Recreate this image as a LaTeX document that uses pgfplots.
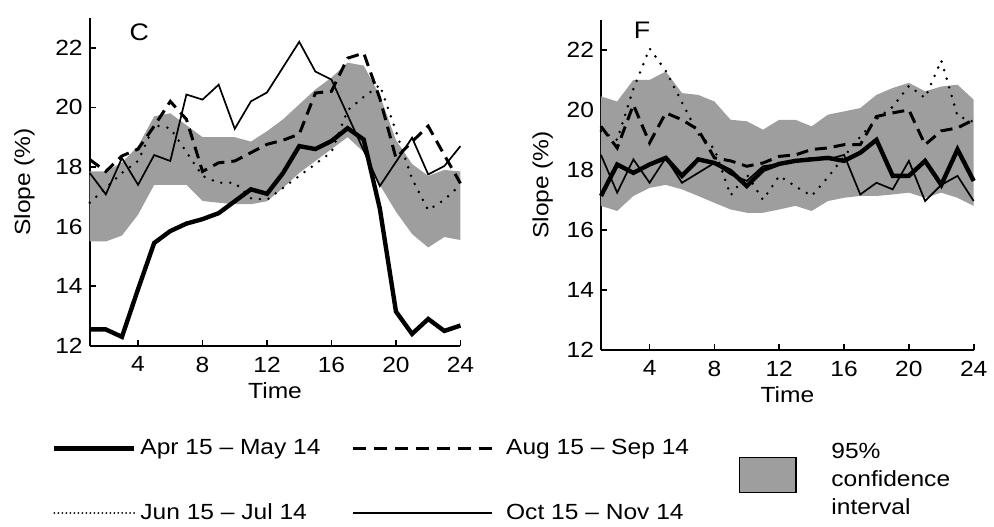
\documentclass[border=0pt]{standalone}
\usepackage{fontspec}
\setmainfont{Liberation Sans}[FakeStretch=1.12]
\usepackage{pgfplots}
\usepackage{pgfplotstable}
\pgfplotsset{compat=1.18}
\usepgfplotslibrary{fillbetween}

% panel C
\pgfplotstableread{
h  apr    jun    aug    oct    lo     up
1  12.55  16.8   18.25  17.8   15.5   17.85
2  12.55  17.3   17.85  17.08  15.5   17.85
3  12.3   17.8   18.37  18.3   15.7   18.15
4  13.9   18.2   18.6   17.4   16.4   18.7
5  15.45  19.4   19.37  18.4   17.4   19.7
6  15.85  19.3   20.2   18.2   17.4   19.8
7  16.1   18.5   19.6   20.43  17.4   19.4
8  16.25  17.7   17.85  20.26  16.86  19.0
9  16.45  17.47  18.14  20.76  16.8   19.0
10 16.85  17.47  18.2   19.28  16.75  19.0
11 17.25  16.95  18.48  20.2   16.75  18.85
12 17.1   16.9   18.76  20.5   16.85  19.2
13 17.8   17.3   18.9   21.35  17.3   19.6
14 18.7   17.7   19.1   22.2   17.8   20.1
15 18.6   18.1   20.48  21.2   18.2   20.6
16 18.87  18.5   20.54  20.93  18.6   21.0
17 19.3   19.9   21.65  19.74  19.0   21.5
18 18.92  20.35  21.82  18.55  18.5   21.4
19 16.6   20.75  20.3   17.36  17.4   20.4
20 13.15  19.2   18.3   18.17  16.5   18.9
21 12.4   17.6   18.85  18.98  15.75  18.1
22 12.9   16.55  19.37  17.75  15.3   17.7
23 12.5   16.9   18.4   18.03  15.65  17.9
24 12.68  17.4   17.45  18.7   15.55  17.85
}\dataC

% panel F
\pgfplotstableread{
h  apr    jun    aug    oct    lo     up
1  17.13  19.3   19.45  18.5   16.8   20.45
2  18.18  19.0   18.73  17.24  16.63  20.28
3  17.9   20.7   20.17  18.35  17.13  21.0
4  18.18  22.05  18.9   17.57  17.4   21.0
5  18.4   21.3   19.9   18.4   17.5   21.28
6  17.8   20.25  19.67  17.57  17.35  20.56
7  18.35  19.2   19.34  17.9   17.13  20.5
8  18.23  18.7   18.4   18.23  16.9   20.28
9  17.96  17.15  18.3   17.85  16.68  19.67
10 17.46  17.85  18.12  17.63  16.57  19.62
11 18.0   17.0   18.23  18.12  16.57  19.34
12 18.2   17.8   18.45  18.2   16.68  19.67
13 18.3   17.45  18.5   18.3   16.8   19.67
14 18.35  17.13  18.68  18.4   16.63  19.45
15 18.4   17.75  18.73  18.35  16.96  19.84
16 18.3   18.45  18.84  18.5   17.07  19.95
17 18.57  19.1   18.84  17.18  17.13  20.06
18 19.0   19.7   19.78  17.57  17.13  20.5
19 17.8   20.1   19.9   17.35  17.18  20.73
20 17.8   20.8   20.0   18.3   17.24  20.9
21 18.3   20.4   18.84  16.96  17.07  20.62
22 17.5   21.65  19.3   17.5   17.24  20.78
23 18.68  19.8   19.4   17.8   17.07  20.84
24 17.63  19.6   19.67  16.96  16.8   20.34
}\dataF

\pgfplotsset{
  slopeax/.style={
    scale only axis,
    xmin=1, xmax=24, ymin=12, ymax=23,
    axis lines*=left,
    axis line style={line width=1pt},
    xtick={4,8,...,24}, ytick={12,14,...,22},
    tick style={line width=0.8pt, black},
    major tick length=3pt,
    tick align=inside,
    xlabel={Time}, ylabel={Slope (\%)},
    ticklabel style={font=\fontsize{11}{13}\selectfont},
    label style={font=\fontsize{11}{13}\selectfont},
    xticklabel style={yshift=-2pt},
    xlabel style={yshift=1.5pt},
    /pgf/number format/assume math mode=true,
    clip=false,
  },
  ci/.style={fill=black!38, draw=none},
  s apr/.style={black, line width=2.2pt},
  s jun/.style={black, line width=1.4pt, dash pattern=on 0pt off 4.5pt, line cap=round},
  s aug/.style={black, line width=1.5pt, dash pattern=on 6pt off 3.5pt},
  s oct/.style={black, line width=0.85pt},
  leg short/.style={legend image code/.code={\draw[##1] (0pt,0pt) -- (40pt,0pt);}},
  leg long/.style={legend image code/.code={\draw[##1] (0pt,0pt) -- (69.5pt,0pt); \path (74pt,0pt);}},
  leg dots/.style={legend image code/.code={\draw[##1, line width=1pt, dash pattern=on 0pt off 2pt] (0pt,0pt) -- (40pt,0pt);}},
  leg dash/.style={legend image code/.code={\draw[##1, dash pattern=on 6.5pt off 4pt] (0pt,0pt) -- (69.5pt,0pt); \path (74pt,0pt);}},
  leg box/.style={legend image code/.code={\draw[fill=black!38, draw=black, line width=0.6pt] (0pt,-6pt) rectangle (28.5pt,11.5pt);}},
}

\begin{document}
\begin{tikzpicture}

% ---- panel C ----
\begin{axis}[slopeax,
  at={(45pt,87pt)}, anchor=south west,
  width=186pt, height=164.5pt,
  ylabel style={yshift=3.5pt},
  legend columns=2,
  legend cell align=left,
  legend style={draw=none, fill=none, inner sep=0pt,
    at={(-0.102,-0.412)}, anchor=west,
    font=\fontsize{11}{13}\selectfont,
    row sep=19pt,
    /tikz/every even column/.append style={column sep=8pt}},
]
\addplot[name path=upC, draw=none, forget plot] table[x=h,y=up]{\dataC};
\addplot[name path=loC, draw=none, forget plot] table[x=h,y=lo]{\dataC};
\addplot[ci, forget plot] fill between[of=upC and loC];

\addplot[s apr, leg short] table[x=h,y=apr]{\dataC};
\addlegendentry{\makebox[96pt][l]{Apr 15 -- May 14}}
\addplot[s aug, leg dash] table[x=h,y=aug]{\dataC};
\addlegendentry{Aug 15 -- Sep 14}
\addplot[s jun, leg dots] table[x=h,y=jun]{\dataC};
\addlegendentry{\makebox[96pt][l]{Jun 15 -- Jul 14}}
\addplot[s oct, leg long] table[x=h,y=oct]{\dataC};
\addlegendentry{Oct 15 -- Nov 14}

\node[font=\fontsize{12}{14}\selectfont] at (rel axis cs:0.134,0.955) {C};
\end{axis}

% ---- panel F ----
\begin{axis}[slopeax,
  at={(301.5pt,85pt)}, anchor=south west,
  width=187pt, height=165.5pt,
  legend cell align=left,
  legend style={draw=none, fill=none, inner sep=0pt,
    at={(0.368,-0.396)}, anchor=west,
    font=\fontsize{11}{14}\selectfont,
    cells={align=left},
    /tikz/every odd column/.append style={column sep=15.5pt}},
]
\addplot[name path=upF, draw=none, forget plot] table[x=h,y=up]{\dataF};
\addplot[name path=loF, draw=none, forget plot] table[x=h,y=lo]{\dataF};
\addplot[ci, forget plot] fill between[of=upF and loF];

\addplot[s apr, forget plot] table[x=h,y=apr]{\dataF};
\addplot[s aug, forget plot] table[x=h,y=aug]{\dataF};
\addplot[s jun, forget plot] table[x=h,y=jun]{\dataF};
\addplot[s oct, forget plot] table[x=h,y=oct]{\dataF};

\addlegendimage{leg box}
\addlegendentry{95\%\\confidence\\interval}

\node[font=\fontsize{12}{14}\selectfont] at (rel axis cs:0.11,0.97) {F};
\end{axis}

\useasboundingbox (0,0) rectangle (497pt,260.5pt);
\end{tikzpicture}
\end{document}
